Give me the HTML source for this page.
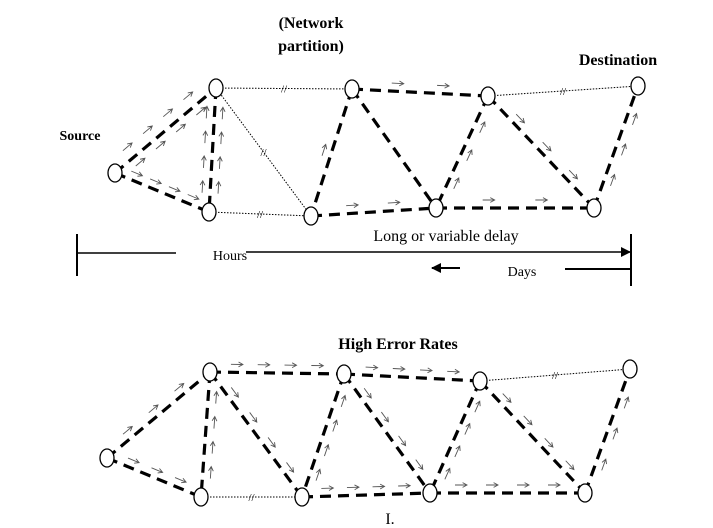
<!DOCTYPE html><html><head><style>body{margin:0;background:#fff}svg{display:block}text{font-family:"Liberation Serif",serif}</style></head><body>
<svg id="s" width="713" height="528" xmlns="http://www.w3.org/2000/svg">
<defs><marker id="ah" markerWidth="10" markerHeight="10" refX="9" refY="5" orient="auto" markerUnits="userSpaceOnUse"><path d="M0,0 L10,5 L0,10 z" fill="#000"/></marker></defs>
<g id="g"></g>
<text x="311" y="28" font-size="16" font-weight="bold" text-anchor="middle">(Network</text>
<text x="311" y="51" font-size="16" font-weight="bold" text-anchor="middle">partition)</text>
<text x="618" y="65" font-size="16" font-weight="bold" text-anchor="middle">Destination</text>
<text x="80" y="140" font-size="14" font-weight="bold" text-anchor="middle">Source</text>
<text x="398" y="349" font-size="16" font-weight="bold" text-anchor="middle">High Error Rates</text>
<text x="390" y="524" font-size="16" text-anchor="middle">I.</text>
<line x1="77" y1="234" x2="77" y2="276" stroke="#000" stroke-width="2"/>
<line x1="631" y1="234" x2="631" y2="286" stroke="#000" stroke-width="2"/>
<line x1="77" y1="253" x2="176" y2="253" stroke="#000" stroke-width="1.5"/>
<text x="230" y="260" font-size="14" text-anchor="middle">Hours</text>
<line x1="246" y1="252" x2="630" y2="252" stroke="#000" stroke-width="1.5" marker-end="url(#ah)"/>
<text x="446" y="241" font-size="16" text-anchor="middle">Long or variable delay</text>
<line x1="460" y1="268" x2="432" y2="268" stroke="#000" stroke-width="2" marker-end="url(#ah)"/>
<text x="522" y="276" font-size="14" text-anchor="middle">Days</text>
<line x1="565" y1="269" x2="631" y2="269" stroke="#000" stroke-width="2"/>
</svg>
<script>
var g=document.getElementById('g'),NS='http://www.w3.org/2000/svg';
function el(t,a){var e=document.createElementNS(NS,t);for(var k in a)e.setAttribute(k,a[k]);g.appendChild(e);return e}
function dash(p,q){el('line',{x1:p[0],y1:p[1],x2:q[0],y2:q[1],stroke:'#000','stroke-width':3.2,'stroke-dasharray':'11 7'})}
function dot(p,q){el('line',{x1:p[0],y1:p[1],x2:q[0],y2:q[1],stroke:'#000','stroke-width':1,'stroke-dasharray':'1.5 1.5'});
 var mx=(p[0]+q[0])/2,my=(p[1]+q[1])/2;el('text',{x:mx,y:my+4,'font-size':11,'text-anchor':'middle'}).textContent='//';}
function arrows(p,q,off,n){var dx=q[0]-p[0],dy=q[1]-p[1],L=Math.hypot(dx,dy),ux=dx/L,uy=dy/L,nx=-uy*off,ny=ux*off;
 for(var i=1;i<=n;i++){var t=i/(n+1),cx=p[0]+dx*t+nx,cy=p[1]+dy*t+ny,a=Math.atan2(uy,ux);
  var x1=cx-ux*6,y1=cy-uy*6,x2=cx+ux*6,y2=cy+uy*6;
  el('path',{d:'M'+x1+','+y1+'L'+x2+','+y2+'M'+(x2-5*Math.cos(a-0.5))+','+(y2-5*Math.sin(a-0.5))+'L'+x2+','+y2+'L'+(x2-5*Math.cos(a+0.5))+','+(y2-5*Math.sin(a+0.5)),stroke:'#555',fill:'none','stroke-width':0.9});}}
function net(N,E,dots,arr){E.forEach(function(e){dash(N[e[0]],N[e[1]])});dots.forEach(function(e){dot(N[e[0]],N[e[1]])});
 arr.forEach(function(a){arrows(N[a[0]],N[a[1]],a[2],a[3])});
 for(var k in N)el('ellipse',{cx:N[k][0],cy:N[k][1],rx:7,ry:9,fill:'#fff',stroke:'#000','stroke-width':1.3});}
net({S:[115,173],A:[216,88],B:[209,212],C:[352,89],D:[311,216],E:[488,96],F:[436,208],G:[638,86],H:[594,208]},
 [['S','A'],['S','B'],['A','B'],['C','D'],['C','F'],['C','E'],['D','F'],['E','F'],['F','H'],['E','H'],['H','G']],
 [['A','C'],['A','D'],['B','D'],['E','G']],
 [['S','A',-12,4],['S','A',8,4],['S','B',-8,4],['B','A',-8,4],['B','A',8,4],['D','C',-8,1],['C','E',-8,2],['D','F',-8,2],['F','E',8,3],['F','H',-8,2],['E','H',-8,3],['H','G',8,3]]);
net({S:[107,458],A:[210,372],B:[201,497],C:[344,374],D:[302,497],E:[480,381],F:[430,493],G:[630,369],H:[585,493]},
 [['S','A'],['S','B'],['A','B'],['A','C'],['A','D'],['C','D'],['C','F'],['C','E'],['D','F'],['E','F'],['F','H'],['E','H'],['H','G']],
 [['B','D'],['E','G']],
 [['S','A',-8,3],['S','B',-8,3],['B','A',8,4],['A','C',-8,4],['A','D',-8,4],['D','C',8,4],['C','F',-8,4],['C','E',-8,4],['D','F',-8,4],['F','E',8,4],['E','H',-8,4],['F','H',-8,4],['H','G',8,3]]);
</script>
</body></html>
